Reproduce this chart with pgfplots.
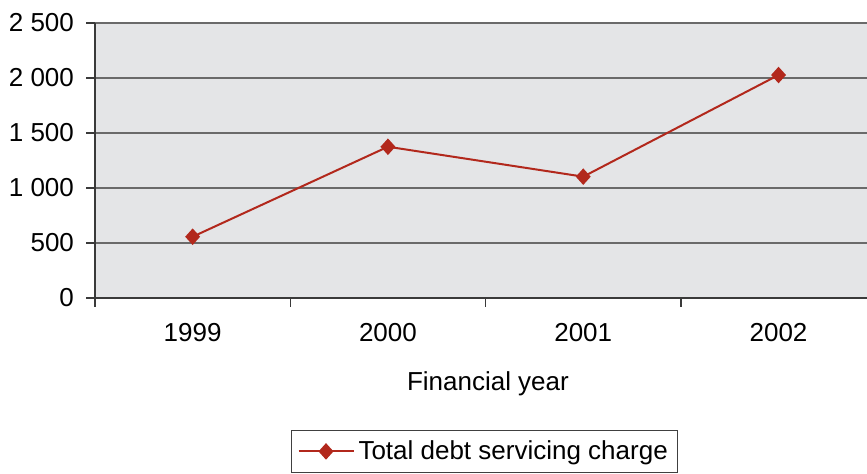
\documentclass[border=0pt]{standalone}
\usepackage{fontspec}
\setmainfont{Liberation Sans}
\usepackage{pgfplots}
\pgfplotsset{compat=1.18}
\definecolor{plotbg}{HTML}{E4E5E7}
\definecolor{serie}{HTML}{B2281C}
\definecolor{gridc}{HTML}{6A6A6A}
\definecolor{axisc}{HTML}{3A3A3A}
\begin{document}
\begin{tikzpicture}[x=1pt,y=1pt]
\path[use as bounding box] (0,0) rectangle (433.5,237);
\begin{axis}[
  at={(47.5pt,88pt)}, anchor=south west,
  scale only axis, width=390.6pt, height=137.5pt,
  xmin=-0.5, xmax=3.5, ymin=0, ymax=2500,
  axis background/.style={fill=plotbg},
  axis lines=left,
  axis line style={-, draw=axisc, line width=0.9pt},
  font=\fontsize{13}{15.5}\selectfont,
  /pgf/number format/assume math mode=true,
  ytick={0,500,1000,1500,2000,2500},
  yticklabels={0,500,1 000,1 500,2 000,2 500},
  y tick label style={xshift=-2.5pt},
  ymajorgrids,
  major grid style={draw=gridc, line width=0.7pt},
  xtick={-0.5,0.5,1.5,2.5,3.5},
  xticklabels={1999,2000,2001,2002},
  x tick label as interval,
  x tick label style={yshift=-4.5pt},
  tick align=outside,
  tick style={draw=axisc, line width=0.8pt},
  major tick length=4.5pt,
  xlabel={Financial year},
  xlabel style={at={(axis description cs:0.503,0)}, anchor=north, yshift=-33.5pt},
  legend style={at={(axis description cs:0.2509,-0.48)}, anchor=north west,
     draw=black!75, line width=0.5pt, inner xsep=3pt, inner ysep=3pt,
     font=\fontsize{13}{15.5}\selectfont},
  legend image code/.code={\draw[mark repeat=2,mark phase=2,#1] plot coordinates {(0pt,0pt)(13.75pt,0pt)(27.5pt,0pt)};},
  clip=false,
]
\addplot[serie, line width=1pt, mark=diamond*, mark size=3.4pt, mark options={fill=serie, draw=serie, xscale=1.2}]
  coordinates {(0,557)(1,1375)(2,1103)(3,2027)};
\addlegendentry{Total debt servicing charge}
\end{axis}
\end{tikzpicture}
\end{document}
